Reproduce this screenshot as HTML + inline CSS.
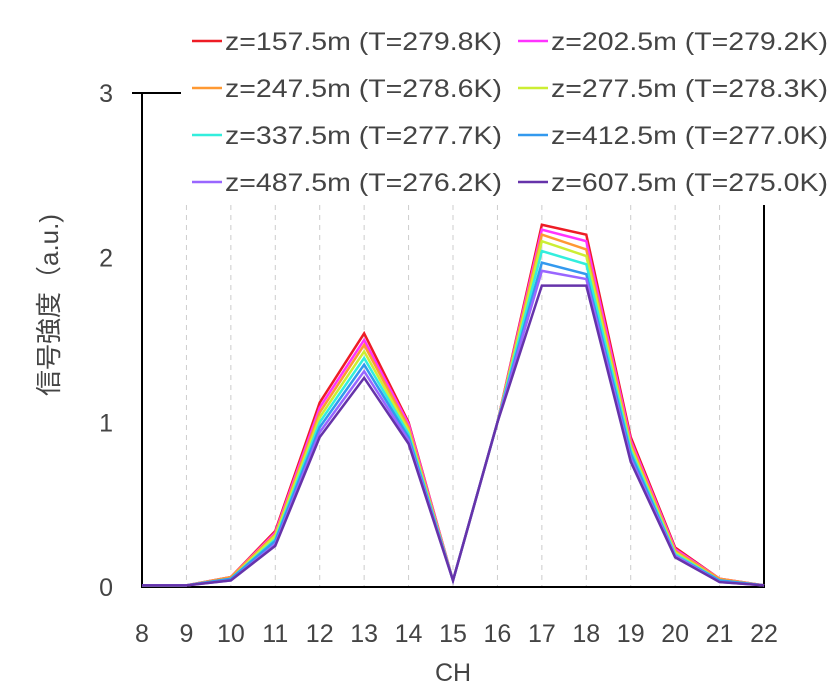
<!DOCTYPE html>
<html><head><meta charset="utf-8"><style>
body{margin:0;background:#fff}
svg text{font-family:"Liberation Sans","Noto Sans CJK JP",sans-serif;fill:#444}
</style></head><body>
<svg id="c" width="840" height="689" xmlns="http://www.w3.org/2000/svg"></svg>
<script>
const categories=[8,9,10,11,12,13,14,15,16,17,18,19,20,21,22];
const seriesNames=["z=157.5m (T=279.8K)","z=202.5m (T=279.2K)","z=247.5m (T=278.6K)","z=277.5m (T=278.3K)","z=337.5m (T=277.7K)","z=412.5m (T=277.0K)","z=487.5m (T=276.2K)","z=607.5m (T=275.0K)"];
const seriesColors=["#ee1c25","#ff33ff","#ff9933","#ccee33","#33eedd","#3399ee","#9966ff","#6633aa"];
const s1=[0.01,0.01,0.06,0.34,1.12,1.54,1.00,0.04,1.0,2.20,2.14,0.91,0.24,0.05,0.01];
const s2=[0.01,0.01,0.06,0.33,1.09,1.50,0.99,0.04,1.0,2.17,2.10,0.89,0.23,0.05,0.01];
const s3=[0.01,0.01,0.06,0.32,1.06,1.47,0.97,0.04,1.0,2.14,2.05,0.87,0.22,0.05,0.01];
const s4=[0.01,0.01,0.05,0.31,1.03,1.43,0.95,0.04,1.0,2.10,2.01,0.85,0.21,0.04,0.01];
const s5=[0.01,0.01,0.05,0.29,1.00,1.39,0.93,0.04,1.0,2.04,1.96,0.83,0.20,0.04,0.01];
const s6=[0.01,0.01,0.05,0.28,0.97,1.35,0.91,0.04,1.0,1.97,1.90,0.81,0.19,0.04,0.01];
const s7=[0.01,0.01,0.04,0.26,0.94,1.31,0.89,0.04,1.0,1.92,1.87,0.78,0.19,0.03,0.01];
const s8=[0.01,0.01,0.04,0.25,0.91,1.27,0.87,0.04,1.0,1.83,1.83,0.76,0.18,0.03,0.01];
const seriesValues=[s1,s2,s3,s4,s5,s6,s7,s8];
const yTicks=[0,1,2,3];
const NS="http://www.w3.org/2000/svg";
const svg=document.getElementById('c');
const X0=142,X1=764,Y0=587,Y3=93;
const x=v=>X0+(v-8)*(X1-X0)/14;
const y=v=>Y0-v*(Y0-Y3)/3;
function el(t,a,txt){const e=document.createElementNS(NS,t);for(const k in a)e.setAttribute(k,a[k]);if(txt!==undefined)e.textContent=txt;svg.appendChild(e);return e;}
categories.forEach(c=>{if(c>8&&c<22){const g=el('line',{x1:x(c),x2:x(c),y1:205,y2:Y0,stroke:'#ccc','stroke-dasharray':'5,5'});

}
const t=el('text',{x:x(c),y:642,'font-size':25,'text-anchor':'middle'},c);

});
yTicks.forEach(v=>{const t=el('text',{x:113,y:y(v)+9,'font-size':25,'text-anchor':'end'},v);

});
let a=el('path',{d:`M132 ${Y3}H181M${X0} ${Y3}V${Y0}H${X1}V205`,stroke:'#000','stroke-width':2,fill:'none'});


seriesValues.forEach((s,i)=>{const p=el('polyline',{points:s.map((v,j)=>x(categories[j])+','+y(v)).join(' '),fill:'none',stroke:seriesColors[i],'stroke-width':2.5});


const col=i%2,row=Math.floor(i/2);const lx=col?518:192,ly=41+row*47;
const l=el('line',{x1:lx,x2:lx+30,y1:ly,y2:ly,stroke:seriesColors[i],'stroke-width':2.5});


const t=el('text',{x:lx+33,y:ly+9,'font-size':25,textLength:277,lengthAdjust:'spacingAndGlyphs'},seriesNames[i]);

});
let xt=el('text',{x:453,y:681,'font-size':25,'text-anchor':'middle'},'CH');


let yt=el('text',{x:0,y:0,'font-size':26,'text-anchor':'middle',transform:'translate(58,305) rotate(-90)'},'信号強度（a.u.)');


</script>
</body></html>
